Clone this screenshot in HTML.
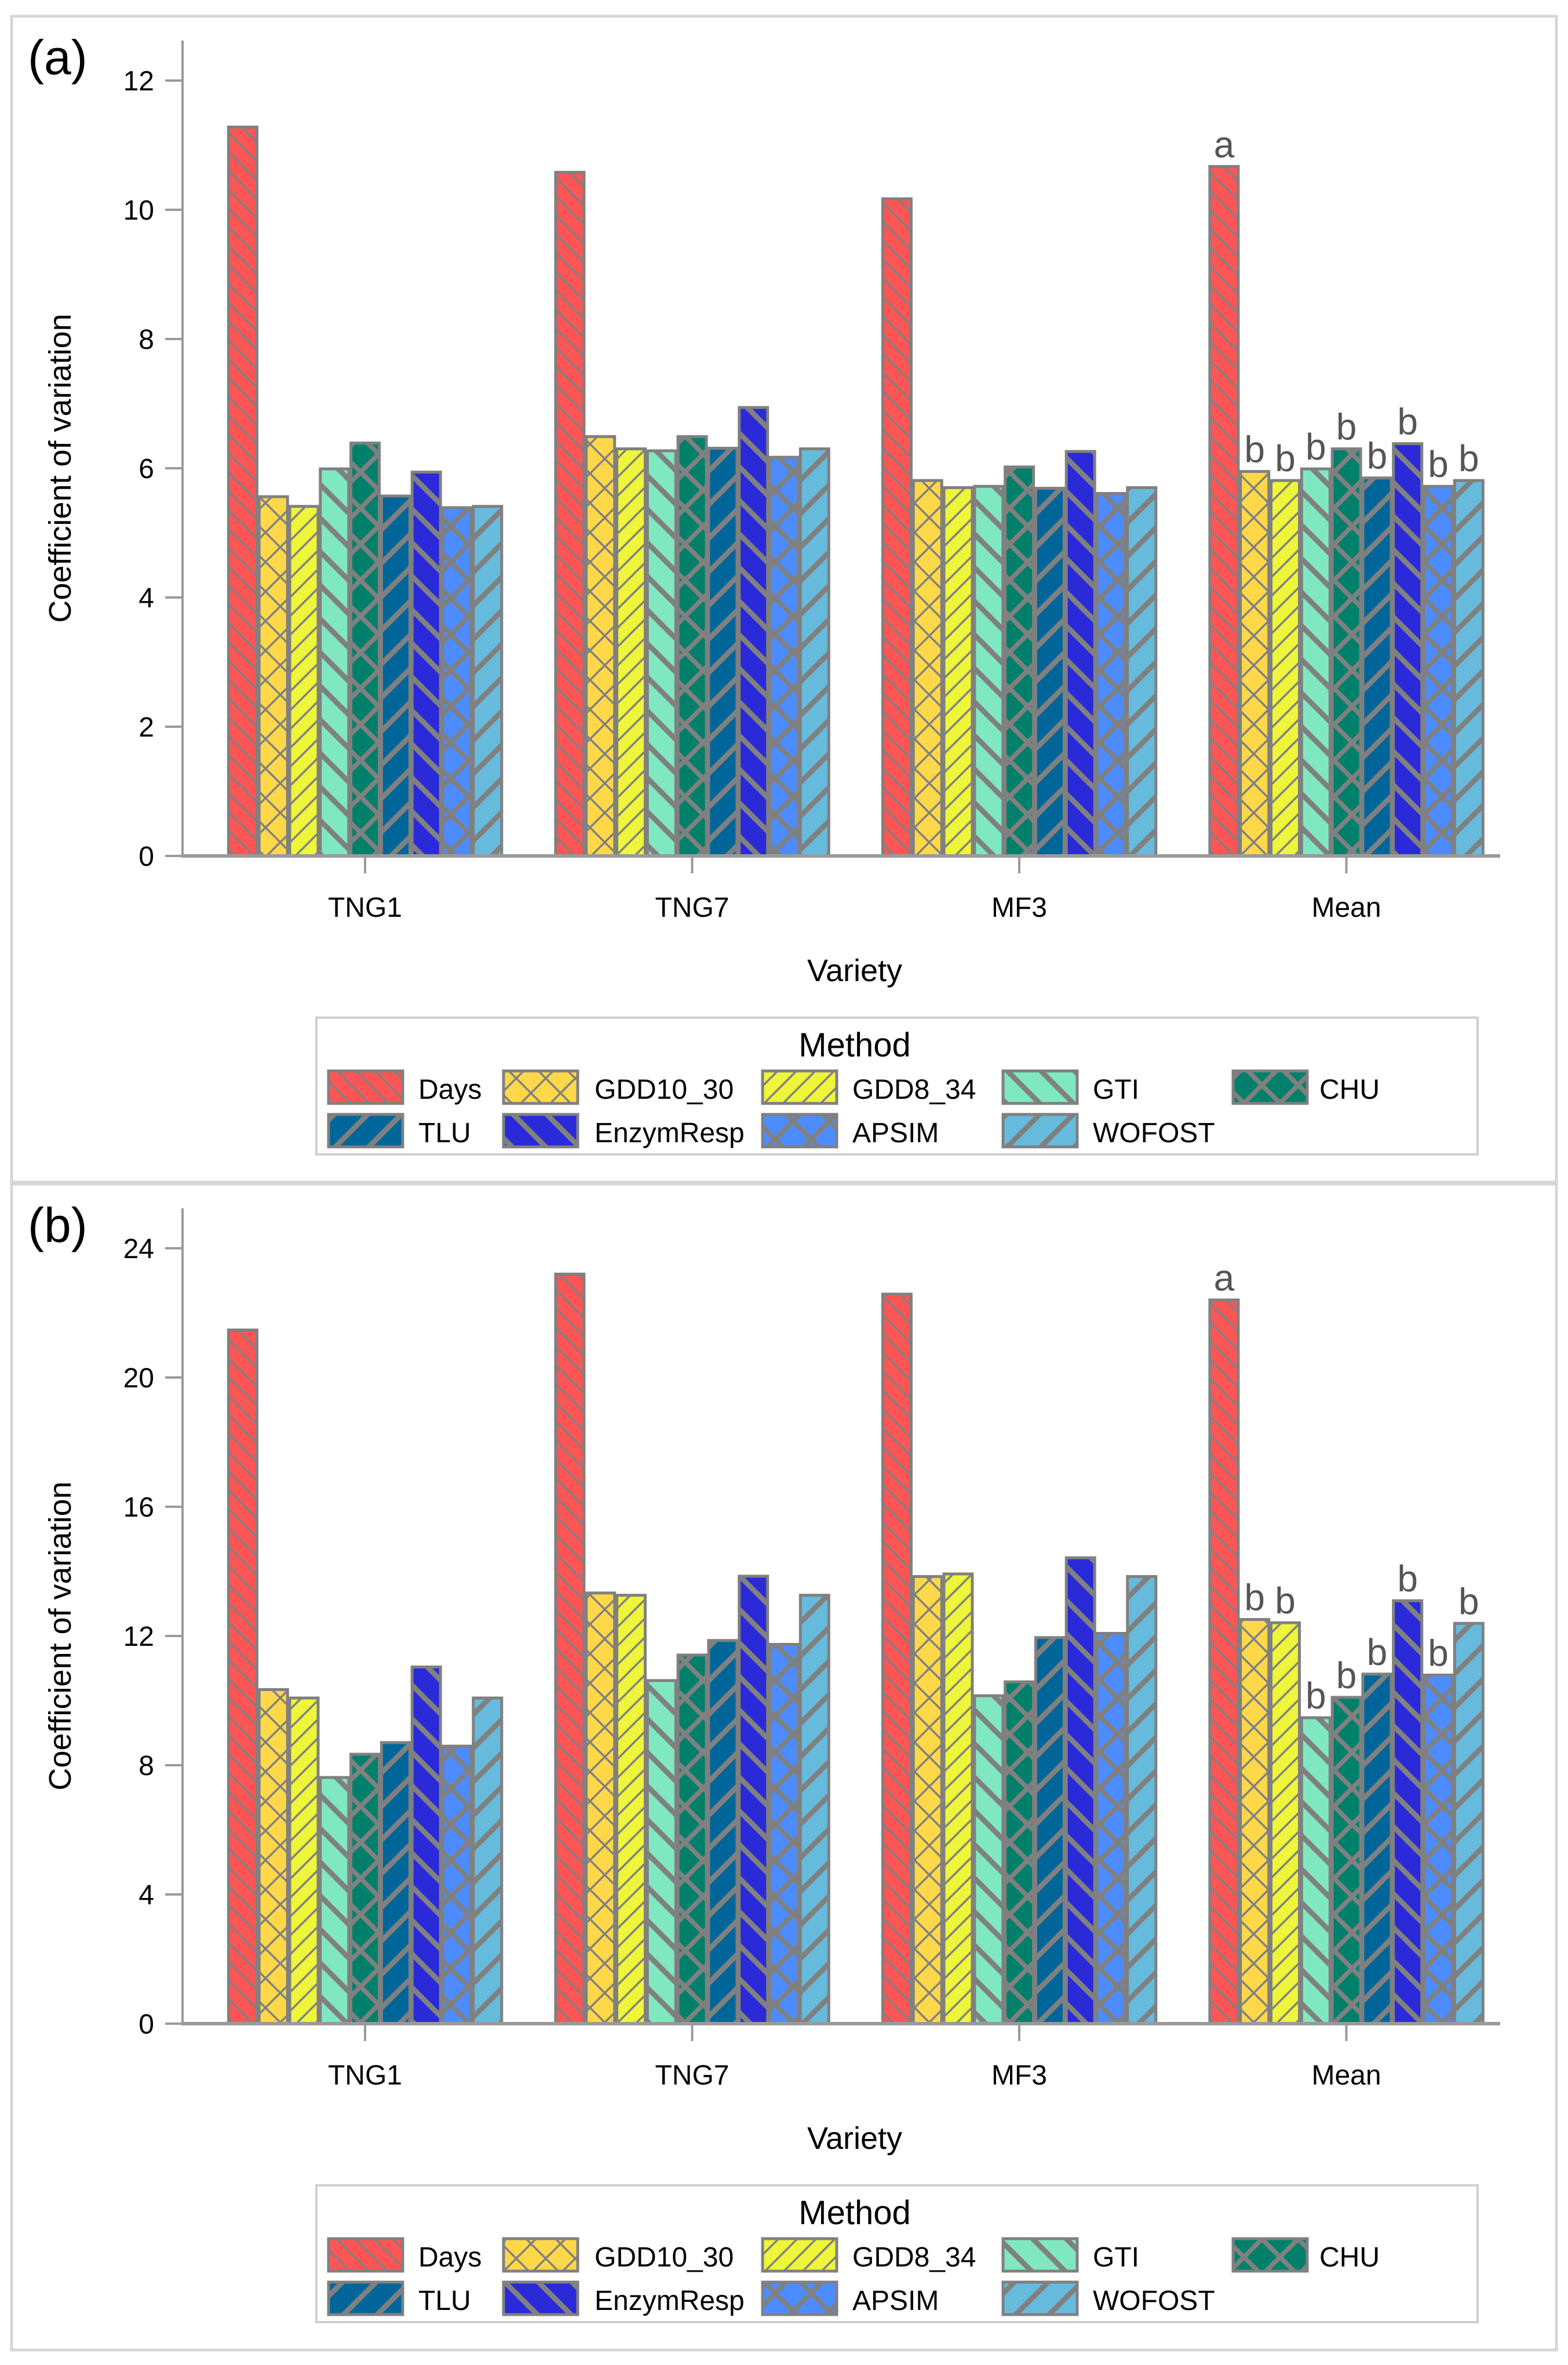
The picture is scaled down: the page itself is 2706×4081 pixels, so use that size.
<!DOCTYPE html>
<html><head><meta charset="utf-8"><style>
html,body{margin:0;padding:0;background:#fff;}
svg{display:block;font-family:"Liberation Sans",sans-serif;}
</style></head><body>
<svg id="chart" xmlns="http://www.w3.org/2000/svg" width="2706" height="4081" viewBox="0 0 2706 4081">
<defs>
<pattern id="p-days" patternUnits="userSpaceOnUse" width="23" height="23" patternTransform="rotate(-45)"><rect width="23" height="23" fill="#ff5555"/><rect x="0" y="0" width="3.5" height="23" fill="#808080"/></pattern>
<pattern id="p-gdd10" patternUnits="userSpaceOnUse" width="36" height="36" patternTransform="rotate(45)"><rect width="36" height="36" fill="#ffd84a"/><rect x="0" y="0" width="3.5" height="36" fill="#808080"/><rect x="0" y="0" width="36" height="3.5" fill="#808080"/></pattern>
<pattern id="p-gdd8" patternUnits="userSpaceOnUse" width="23" height="23" patternTransform="rotate(45)"><rect width="23" height="23" fill="#eef53a"/><rect x="0" y="0" width="3.5" height="23" fill="#808080"/></pattern>
<pattern id="p-gti" patternUnits="userSpaceOnUse" width="41" height="41" patternTransform="rotate(-45)"><rect width="41" height="41" fill="#80e8c0"/><rect x="0" y="0" width="9" height="41" fill="#808080"/></pattern>
<pattern id="p-chu" patternUnits="userSpaceOnUse" width="44" height="44" patternTransform="rotate(45)"><rect width="44" height="44" fill="#00806a"/><rect x="0" y="0" width="8" height="44" fill="#808080"/><rect x="0" y="0" width="44" height="8" fill="#808080"/></pattern>
<pattern id="p-tlu" patternUnits="userSpaceOnUse" width="41" height="41" patternTransform="rotate(45)"><rect width="41" height="41" fill="#006699"/><rect x="0" y="0" width="9" height="41" fill="#808080"/></pattern>
<pattern id="p-enz" patternUnits="userSpaceOnUse" width="41" height="41" patternTransform="rotate(-45)"><rect width="41" height="41" fill="#2a2ad8"/><rect x="0" y="0" width="9" height="41" fill="#808080"/></pattern>
<pattern id="p-apsim" patternUnits="userSpaceOnUse" width="44" height="44" patternTransform="rotate(45)"><rect width="44" height="44" fill="#4d8cff"/><rect x="0" y="0" width="8" height="44" fill="#808080"/><rect x="0" y="0" width="44" height="8" fill="#808080"/></pattern>
<pattern id="p-wofost" patternUnits="userSpaceOnUse" width="41" height="41" patternTransform="rotate(45)"><rect width="41" height="41" fill="#66bbdd"/><rect x="0" y="0" width="9" height="41" fill="#808080"/></pattern>
</defs>
</svg>
<script>
const categories = ["TNG1", "TNG7", "MF3", "Mean"];
const methods = ["Days", "GDD10_30", "GDD8_34", "GTI", "CHU", "TLU", "EnzymResp", "APSIM", "WOFOST"];
// panel (a) values per method, across categories
const aDays = [11.28, 10.58, 10.17, 10.67];
const aGDD10 = [5.56, 6.49, 5.81, 5.95];
const aGDD8 = [5.41, 6.30, 5.70, 5.81];
const aGTI = [5.99, 6.27, 5.72, 5.99];
const aCHU = [6.39, 6.49, 6.02, 6.30];
const aTLU = [5.57, 6.31, 5.69, 5.85];
const aEnz = [5.94, 6.94, 6.26, 6.38];
const aAPSIM = [5.39, 6.17, 5.61, 5.72];
const aWOFOST = [5.41, 6.30, 5.70, 5.81];
// panel (b)
const bDays = [21.47, 23.2, 22.58, 22.4];
const bGDD10 = [10.34, 13.33, 13.84, 12.51];
const bGDD8 = [10.08, 13.26, 13.92, 12.41];
const bGTI = [7.62, 10.62, 10.15, 9.47];
const bCHU = [8.34, 11.41, 10.58, 10.10];
const bTLU = [8.70, 11.86, 11.95, 10.82];
const bEnz = [11.04, 13.85, 14.42, 13.09];
const bAPSIM = [8.59, 11.74, 12.08, 10.79];
const bWOFOST = [10.08, 13.26, 13.84, 12.39];
const aTicks = [0, 2, 4, 6, 8, 10, 12];
const bTicks = [0, 4, 8, 12, 16, 20, 24];
const aLetters = ["a", "b", "b", "b", "b", "b", "b", "b", "b"];
const bLetters = ["a", "b", "b", "b", "b", "b", "b", "b", "b"];

const NS = "http://www.w3.org/2000/svg";
const svg = document.getElementById("chart");
const patIds = ["p-days","p-gdd10","p-gdd8","p-gti","p-chu","p-tlu","p-enz","p-apsim","p-wofost"];
function mk(tag, attrs, parent){ const e=document.createElementNS(NS,tag); for(const k in attrs) e.setAttribute(k,attrs[k]); (parent||svg).appendChild(e); return e; }

function panel(off, label, series, ticks, yMax, letters, pname){
  const g = mk("g", {});
  
  
  const frame = mk("rect", {x:20, y:28+off, width:2666, height:2012, fill:"none", stroke:"#d6d6d6", "stroke-width":5}, g);
  
  
  const lab = mk("text", {x:48, y:128+off, "font-size":84, fill:"#000"}, g);
  lab.textContent = label;
  
  
  const y0 = 1477+off, yTop = 139+off;
  const yS = v => y0 - (v / yMax) * (y0 - yTop);
  const groupX = i => 630 + i * 564.5;
  const pitch = 52.8, bw = 49;
  const ya = mk("line", {x1:315, y1:70+off, x2:315, y2:y0, stroke:"#9a9a9a", "stroke-width":4}, g);
  
  
  ticks.forEach(t => {
    const y = yS(t);
    mk("line", {x1:285, y1:y, x2:315, y2:y, stroke:"#9a9a9a", "stroke-width":4}, g);
    const tl = mk("text", {x:266, y:y+17, "font-size":48, "text-anchor":"end", fill:"#000"}, g);
    tl.textContent = t;
    
    
  });
  const yt = mk("text", {x:0, y:0, "font-size":54, "text-anchor":"middle", fill:"#000", transform:`translate(122,${(y0+yTop)/2}) rotate(-90)`}, g);
  yt.textContent = "Coefficient of variation";
  
  
  categories.forEach((c, ci) => {
    const start = groupX(ci) - pitch * 4.5;
    series.forEach((s, mi) => {
      const v = s[ci];
      const x = start + mi * pitch + 2;
      const y = yS(v);
      const r = mk("rect", {x:x, y:y, width:bw, height:y0-y, fill:`url(#${patIds[mi]})`, stroke:"#808080", "stroke-width":5}, g);
      
      
      if (c === "Mean") {
        const lt = mk("text", {x:x+bw/2, y:y-16, "font-size":64, "text-anchor":"middle", fill:"#555"}, g);
        lt.textContent = letters[mi];
        
        
      }
    });
    mk("line", {x1:groupX(ci), y1:y0, x2:groupX(ci), y2:y0+30, stroke:"#9a9a9a", "stroke-width":4}, g);
    const cl = mk("text", {x:groupX(ci), y:1582+off, "font-size":48, "text-anchor":"middle", fill:"#000"}, g);
    cl.textContent = c;
    
    
  });
  const xa = mk("line", {x1:313, y1:y0, x2:2589, y2:y0, stroke:"#9a9a9a", "stroke-width":6}, g);
  
  
  const xt = mk("text", {x:1475, y:1693+off, "font-size":54, "text-anchor":"middle", fill:"#000"}, g);
  xt.textContent = "Variety";
  
  
  const lg = mk("g", {}, g);
  
  
  mk("rect", {x:546, y:1756+off, width:2004, height:236, fill:"#fff", stroke:"#cfcfcf", "stroke-width":4}, lg);
  const lt = mk("text", {x:1475, y:1823+off, "font-size":58, "text-anchor":"middle", fill:"#000"}, lg);
  lt.textContent = "Method";
  
  
  const colX = [567, 869, 1316, 1731, 2128];
  const txtX = [722, 1026, 1471, 1886, 2277];
  methods.forEach((m, mi) => {
    const row = mi < 5 ? 0 : 1, col = mi < 5 ? mi : mi - 5;
    const sy = (row === 0 ? 1848 : 1923) + off;
    const e = mk("g", {}, lg);
    
    
    mk("rect", {x:colX[col], y:sy, width:128, height:56, fill:`url(#${patIds[mi]})`, stroke:"#808080", "stroke-width":5}, e);
    const t = mk("text", {x:txtX[col], y:sy+48, "font-size":48, fill:"#000"}, e);
    t.textContent = m;
  });
}
panel(0, "(a)", [aDays,aGDD10,aGDD8,aGTI,aCHU,aTLU,aEnz,aAPSIM,aWOFOST], aTicks, 12, aLetters, "panel-a");
panel(2015, "(b)", [bDays,bGDD10,bGDD8,bGTI,bCHU,bTLU,bEnz,bAPSIM,bWOFOST], bTicks, 24, bLetters, "panel-b");
</script>
</body></html>
